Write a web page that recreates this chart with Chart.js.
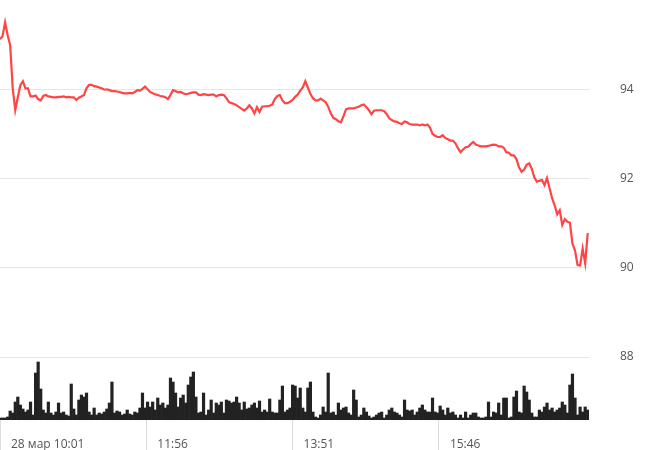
<!DOCTYPE html>
<html><head><meta charset="utf-8">
<script src="https://cdn.jsdelivr.net/npm/chart.js@4/dist/chart.umd.min.js"></script>
<style>html,body{margin:0;padding:0;background:#fff;} #wrap{position:relative;width:664px;height:450px;}</style>
</head><body><div id="wrap"><canvas id="c"></canvas></div>
<script>
// minutes between samples, counted from 28 мар 10:01
const stepMinutes = 2;

const prices = [
  95.12, 95.19, 95.50, 95.21, 94.99, 94.02, 93.53, 93.82, 94.09, 94.18,
  94.02, 94.02, 93.84, 93.84, 93.86, 93.78, 93.75, 93.85, 93.87, 93.84,
  93.83, 93.82, 93.82, 93.83, 93.83, 93.84, 93.82, 93.83, 93.82, 93.82,
  93.76, 93.81, 93.84, 93.87, 94.02, 94.10, 94.10, 94.07, 94.06, 94.04,
  94.02, 93.99, 94.00, 93.98, 93.96, 93.96, 93.95, 93.94, 93.92, 93.91,
  93.91, 93.92, 93.91, 93.94, 93.98, 93.97, 94.01, 94.06, 94.00, 93.94,
  93.91, 93.89, 93.87, 93.85, 93.84, 93.82, 93.78, 93.87, 93.98, 93.96,
  93.93, 93.94, 93.91, 93.89, 93.90, 93.92, 93.93, 93.93, 93.88, 93.87,
  93.89, 93.88, 93.87, 93.88, 93.88, 93.84, 93.87, 93.88, 93.87, 93.80,
  93.71, 93.69, 93.67, 93.64, 93.60, 93.56, 93.52, 93.57, 93.64, 93.57,
  93.46, 93.60, 93.49, 93.61, 93.62, 93.62, 93.63, 93.66, 93.78, 93.85,
  93.87, 93.75, 93.69, 93.69, 93.72, 93.76, 93.83, 93.88, 93.97, 94.04,
  94.18, 94.04, 93.90, 93.80, 93.75, 93.75, 93.79, 93.75, 93.71, 93.61,
  93.46, 93.36, 93.33, 93.28, 93.26, 93.40, 93.55, 93.57, 93.57, 93.57,
  93.59, 93.61, 93.64, 93.66, 93.60, 93.53, 93.44, 93.52, 93.53, 93.53,
  93.53, 93.51, 93.44, 93.35, 93.31, 93.28, 93.27, 93.24, 93.22, 93.28,
  93.26, 93.22, 93.21, 93.21, 93.21, 93.19, 93.21, 93.19, 93.21, 93.14,
  93.00, 92.96, 92.93, 92.93, 92.97, 92.91, 92.88, 92.85, 92.85, 92.79,
  92.68, 92.59, 92.65, 92.70, 92.71, 92.77, 92.82, 92.76, 92.74, 92.72,
  92.72, 92.72, 92.73, 92.75, 92.76, 92.75, 92.72, 92.72, 92.69, 92.59,
  92.58, 92.52, 92.52, 92.43, 92.25, 92.15, 92.20, 92.31, 92.34, 92.22,
  92.03, 91.93, 91.95, 91.97, 91.85, 92.01, 91.78, 91.56, 91.40, 91.20,
  91.29, 90.96, 91.09, 91.03, 91.01, 90.54, 90.39, 90.06, 90.05, 90.43,
  90.10, 90.78
];

// traded volume per interval (thousands)
const volumes = [
  2, 2, 2, 3, 9, 7, 18, 23, 15, 11,
  8, 10, 18, 5, 47, 58, 31, 10, 7, 18,
  7, 5, 8, 17, 7, 8, 5, 4, 36, 11,
  5, 20, 25, 23, 27, 8, 5, 12, 5, 7,
  6, 8, 11, 17, 38, 7, 9, 8, 5, 6,
  10, 6, 5, 8, 7, 12, 27, 12, 18, 13,
  18, 10, 22, 15, 17, 12, 15, 42, 38, 27,
  13, 22, 25, 17, 35, 43, 48, 23, 7, 8,
  27, 5, 10, 20, 7, 17, 15, 18, 7, 20,
  19, 17, 18, 23, 17, 10, 18, 11, 12, 15,
  17, 12, 19, 8, 10, 8, 21, 8, 7, 7,
  20, 34, 8, 10, 12, 35, 34, 22, 32, 12,
  8, 32, 38, 8, 3, 2, 5, 13, 8, 47,
  7, 8, 5, 17, 10, 12, 13, 7, 5, 30,
  20, 3, 5, 12, 8, 4, 2, 3, 5, 7,
  8, 2, 5, 10, 12, 8, 7, 5, 3, 20,
  10, 9, 10, 5, 8, 12, 15, 10, 8, 8,
  22, 8, 7, 14, 10, 5, 12, 7, 8, 5,
  2, 5, 2, 8, 2, 5, 7, 7, 3, 2,
  2, 3, 18, 3, 8, 7, 17, 5, 22, 22,
  2, 3, 23, 29, 8, 7, 34, 28, 20, 7,
  3, 3, 10, 8, 13, 17, 10, 12, 8, 10,
  12, 18, 15, 7, 35, 46, 22, 5, 13, 8,
  13, 10
];

const priceTicks = [88, 90, 92, 94];
const timeTickMinutes = [0, 115, 230, 345];
const timeTickLabels = ["28 мар 10:01", "11:56", "13:51", "15:46"];

const pricePoints = prices.map((p, i) => ({ x: i * stepMinutes, y: p }));
const volumePoints = volumes.map((v, i) => ({ x: i * stepMinutes, y: v }));

const font = { family: '"Open Sans", sans-serif', size: 12 };

new Chart(document.getElementById('c'), {
  data: {
    datasets: [
      { type: 'line', data: pricePoints, borderColor: '#ff4444', borderWidth: 2.2,
        pointRadius: 0, tension: 0, yAxisID: 'y', order: 0 },
      { type: 'bar', data: volumePoints, backgroundColor: '#222222', borderWidth: 0,
        barPercentage: 1, categoryPercentage: 1, yAxisID: 'yv', order: 1 }
    ]
  },
  options: {
    animation: false,
    responsive: true,
    maintainAspectRatio: false,
    layout: { padding: 0 },
    plugins: { legend: { display: false }, tooltip: { enabled: false } },
    scales: {
      x: {
        type: 'linear', min: 0, max: 463, offset: false,
        grid: { offset: false, drawOnChartArea: false, drawTicks: true, tickLength: 30, color: '#dcdcdc', lineWidth: 1 },
        border: { display: false },
        afterBuildTicks: s => { s.ticks = timeTickMinutes.map(v => ({ value: v })); },
        afterFit: s => { s.height = 30; s.paddingLeft = 0; s.paddingRight = 0; },
        ticks: { autoSkip: false, maxRotation: 0, minRotation: 0, align: 'start', labelOffset: 11,
                 padding: -13, color: '#555', font: font,
                 callback: (v, i) => timeTickLabels[i] }
      },
      y: {
        type: 'linear', position: 'right', min: 86.59, max: 96,
        grid: { color: '#e6e6e6', drawTicks: false },
        border: { display: false },
        afterBuildTicks: s => { s.ticks = priceTicks.map(v => ({ value: v })); },
        afterFit: s => { s.width = 75; s.paddingTop = 0; s.paddingBottom = 0; },
        ticks: { padding: 31, color: '#555', font: font, callback: v => String(v) }
      },
      yv: { type: 'linear', display: false, min: 0, max: 420 }
    }
  }
});
</script>
</body></html>
